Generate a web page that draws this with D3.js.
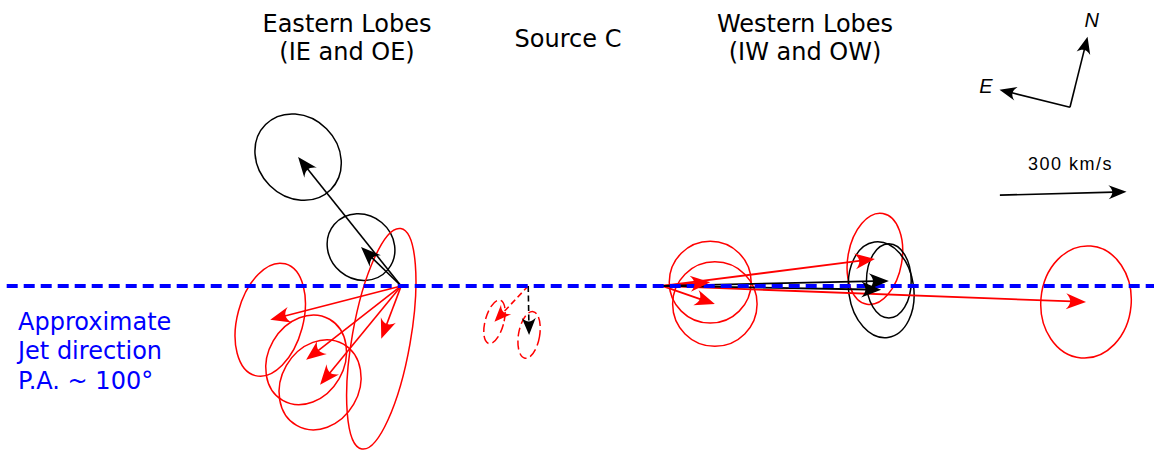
<!DOCTYPE html>
<html>
<head>
<meta charset="utf-8">
<script src="https://cdn.jsdelivr.net/npm/d3@7"></script>
<style>
  html, body { margin: 0; padding: 0; background: #fff; }
  svg { display: block; }
</style>
</head>
<body>
<svg id="chart" width="1154" height="453"></svg>
<script>
// ---------------- DATA ----------------
// groups of sources along the jet axis (layout position in km/s-scaled sky units)
const groupNames   = ["Eastern Lobes", "Source C", "Western Lobes"];
const groupSubs    = ["(IE and OE)", "", "(IW and OW)"];
const groupOriginX = [0, 301, 618];
const groupQuality = ["firm", "tentative", "firm"];

// proper-motion vectors (km/s) : group index, epoch series, error-ellipse series
const vecGroup  = [0, 0, 0, 0, 0, 0, 1, 1, 2, 2, 2, 2, 2, 2];
const vecSeries = ["B","B","R","R","R","R","R","B","R","R","R","R","B","B"];
const errSeries = ["B","B","R","R","R","R","R","R","R","R","R","R","B","B"];
const vecVx     = [-244, -95, -310, -225, -192, -47, -80,    2, 125, 114, 504, 1004, 537, 519];
const vecVy     = [ 305,  92,  -80, -175, -234, -125, -85, -116, -43,   9,  64,  -38,  12,  -9];
// 1-sigma error ellipses (km/s) and orientation (deg)
const errA      = [109, 83,  78,  90,  92,  69, 22, 25, 100,  97,  64, 107,  53,  77];
const errB      = [ 95, 76, 137, 111, 111, 265, 53, 56, 100,  97, 109, 133,  88, 114];
const errAngle  = [ 45, 40,  15,  30,  30,  10, 15, 10,   0,   0,  10,   5,   0,  -8];

// reference items
const scaleBarValue = 300;
const scaleBarLabel = "300 km/s";
const scaleBarStart = [1418, 215];
const scaleBarTilt  = 8;
const compassOrigin = [1584, 423];
const compassLen    = 172;
const compassRot    = 14;
const compassLabels = ["N", "E"];
const jetText       = ["Approximate", "Jet direction", "P.A. ~ 100°"];

// ---------------- SCALES ----------------
const W = 1154, H = 453;
const x = d3.scaleLinear().domain([-950, 1783]).range([0, W]);
const y = d3.scaleLinear().domain([-395.5, 677]).range([H, 0]);
const sx = v => x(v) - x(0);
const sy = v => y(0) - y(v);
const color = d3.scaleOrdinal().domain(["R", "B"]).range(["#ff0000", "#000000"]);
const dashFor = q => q === "tentative";

const svg = d3.select("#chart");
const gEll = svg.append("g");
const gShaft = svg.append("g");
const gLine = svg.append("g");
const gHead = svg.append("g");
const gText = svg.append("g");

function headPath(tx, ty, ang, L, Wd) {
  const c = Math.cos(ang), s = Math.sin(ang);
  const p = (u, v) => [tx + u * c - v * s, ty + u * s + v * c];
  const a = p(0, 0), b = p(-L, -Wd), c1 = p(-0.72 * L, -0.3 * Wd),
        c2 = p(-0.72 * L, 0.3 * Wd), d = p(-L, Wd);
  return `M${a[0]},${a[1]}L${b[0]},${b[1]}C${c1[0]},${c1[1]} ${c2[0]},${c2[1]} ${d[0]},${d[1]}Z`;
}

function arrow(x0, y0, x1, y1, col, opts) {
  const o = Object.assign({L: 20, Wd: 8, sw: 1.6, dash: null}, opts || {});
  const ang = Math.atan2(y1 - y0, x1 - x0);
  const ex = x1 - Math.cos(ang) * 0.7 * o.L, ey = y1 - Math.sin(ang) * 0.7 * o.L;
  gShaft.append("line")
    .attr("x1", x0).attr("y1", y0).attr("x2", ex).attr("y2", ey)
    .attr("stroke", col).attr("stroke-width", o.sw)
    .attr("stroke-dasharray", o.dash);
  gHead.append("path").attr("d", headPath(x1, y1, ang, o.L, o.Wd)).attr("fill", col);
}

// ---------------- ERROR ELLIPSES ----------------
const vecs = vecVx.map((vx, i) => ({
  g: vecGroup[i], s: vecSeries[i], es: errSeries[i],
  vx, vy: vecVy[i], a: errA[i], b: errB[i], ang: errAngle[i]
}));

vecs.forEach(d => {
  const ox = groupOriginX[d.g];
  const cx = x(ox + d.vx), cy = y(d.vy);
  const dashed = dashFor(groupQuality[d.g]);
  gEll.append("ellipse")
    .attr("cx", 0).attr("cy", 0)
    .attr("rx", sx(d.a)).attr("ry", sy(d.b))
    .attr("transform", `translate(${cx},${cy}) rotate(${d.ang})`)
    .attr("fill", "none").attr("stroke", color(d.es)).attr("stroke-width", 1.5)
    .attr("stroke-dasharray", dashed ? "9,4" : null);
});

// ---------------- VECTORS ----------------
vecs.forEach(d => {
  const ox = groupOriginX[d.g];
  const dashed = dashFor(groupQuality[d.g]);
  arrow(x(ox), y(0), x(ox + d.vx), y(d.vy), color(d.s),
        {dash: dashed ? "6,3.5" : null, sw: d.g === 2 ? 1.8 : 1.6,
         L: dashed ? 17 : 20, Wd: dashed ? 7 : 8});
});

// ---------------- JET LINE ----------------
gLine.append("line")
  .attr("x1", 6.7).attr("x2", W)
  .attr("y1", y(0)).attr("y2", y(0))
  .attr("stroke", "#0000ff").attr("stroke-width", 4)
  .attr("stroke-dasharray", "11,6");

// ---------------- TEXT ----------------
const headerCX = [347, 568, 805];
groupNames.forEach((n, i) => {
  const single = !groupSubs[i];
  gText.append("text")
    .attr("x", headerCX[i]).attr("y", single ? 46.5 : 31.5)
    .attr("text-anchor", "middle")
    .attr("font-family", "DejaVu Sans").attr("font-size", 24)
    .attr("fill", "#000").text(n);
  if (!single) {
    gText.append("text")
      .attr("x", headerCX[i]).attr("y", 59.5)
      .attr("text-anchor", "middle")
      .attr("font-family", "DejaVu Sans").attr("font-size", 24)
      .attr("fill", "#000").text(groupSubs[i]);
  }
});

jetText.forEach((t, i) => {
  gText.append("text")
    .attr("x", 18).attr("y", 329.5 + i * 29.8)
    .attr("font-family", "DejaVu Sans").attr("font-size", 24)
    .attr("fill", "#0000ff").text(t);
});

// ---------------- SCALE BAR ----------------
{
  const x0 = x(scaleBarStart[0]), y0 = y(scaleBarStart[1]);
  const x1 = x(scaleBarStart[0] + scaleBarValue), y1 = y(scaleBarStart[1] + scaleBarTilt);
  arrow(x0, y0, x1, y1, "#000", {L: 18, Wd: 7, sw: 1.6});
  gText.append("text")
    .attr("x", x0 + 28).attr("y", 169.5)
    .attr("font-family", "Liberation Sans, Arial, sans-serif").attr("font-size", 18)
    .attr("letter-spacing", 1.5)
    .attr("fill", "#000").text(scaleBarLabel);
}

// ---------------- COMPASS ----------------
{
  const cx = x(compassOrigin[0]), cy = y(compassOrigin[1]);
  const Lpx = sx(compassLen);
  const r = compassRot * Math.PI / 180;
  const dirs = [
    [Math.sin(r), -Math.cos(r)],        // N
    [-Math.cos(r), -Math.sin(r)]        // E
  ];
  const labelOff = [17, 14];
  dirs.forEach((dv, i) => {
    const tx = cx + dv[0] * Lpx, ty = cy + dv[1] * Lpx;
    arrow(cx, cy, tx, ty, "#000", {L: 17, Wd: 7, sw: 1.6});
    gText.append("text")
      .attr("x", tx + dv[0] * labelOff[i]).attr("y", ty + dv[1] * labelOff[i])
      .attr("text-anchor", "middle").attr("dominant-baseline", "central")
      .attr("font-family", "Liberation Sans, Arial, sans-serif")
      .attr("font-style", "italic").attr("font-size", 20)
      .attr("fill", "#000").text(compassLabels[i]);
  });
}
</script>
</body>
</html>
